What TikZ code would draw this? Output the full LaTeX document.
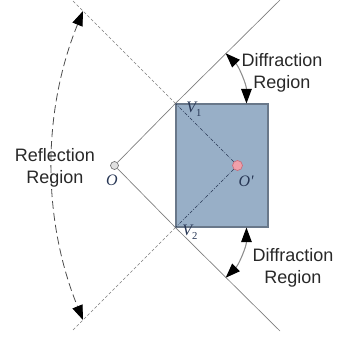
\documentclass[tikz,border=0pt]{standalone}
\usepackage{fontspec}
\setmainfont{Liberation Sans}
\newfontfamily\lserif{Liberation Serif}
\usetikzlibrary{arrows.meta}
\definecolor{boxfill}{RGB}{152,175,199}
\definecolor{boxline}{RGB}{105,120,138}
\definecolor{linegray}{RGB}{125,125,125}
\definecolor{innerdash}{RGB}{40,55,85}
\definecolor{txt}{RGB}{40,40,40}
\definecolor{pinkfill}{RGB}{240,160,170}
\definecolor{pinkline}{RGB}{200,110,125}
\begin{document}
\begin{tikzpicture}[x=0.75pt,y=0.75pt,
  tri/.style={{Triangle[length=11pt,width=8pt,color=black,fill=black]}-{Triangle[length=11pt,width=8pt,color=black,fill=black]}},
  solidray/.style={draw=linegray, line width=0.5pt},
  outerdash/.style={draw=linegray, line width=0.5pt, dash pattern=on 2.2pt off 1.6pt},
  innerdashed/.style={draw=innerdash, line width=0.5pt, dash pattern=on 2.5pt off 1.2pt on 0.6pt off 1.2pt},
  reflarc/.style={tri, draw=black!70, line width=0.6pt, dash pattern=on 6pt off 3pt},
  diffarc/.style={tri, draw=black!45, line width=0.8pt},
  region/.style={text=txt, align=center, font=\fontsize{13.5}{16.5}\selectfont},
  lab/.style={text=innerdash, font=\lserif\itshape\fontsize{12}{12}\selectfont, inner sep=0pt}
]
\useasboundingbox (0,0) rectangle (337,-340);

% the block
\node[draw=boxline, fill=boxfill, line width=0.8pt, minimum width=69pt, minimum height=92.25pt, inner sep=0pt] (box) at (222,-165.5) {};
\coordinate (V1) at (box.north west);
\coordinate (V2) at (box.south west);

% sources
\coordinate (O) at (114.5,-165.5);
\coordinate (Op) at (237.5,-165.5);
\node[circle, draw=black!55, fill=black!12, line width=0.5pt, minimum size=6pt, inner sep=0pt] (Oc) at (O) {};
\node[circle, draw=pinkline, fill=pinkfill, line width=0.5pt, minimum size=7.5pt, inner sep=0pt] (Opc) at (Op) {};

% free ends
\coordinate (tr) at (280,0);
\coordinate (br) at (280,-331);
\coordinate (tl) at (72,0);
\coordinate (bl) at (72,-331);

% rays from O
\draw[solidray] (Oc) -- (V1) -- (tr);
\draw[solidray] (Oc) -- (V2) -- (br);

% rays from O'
\draw[innerdashed] (Opc) -- (V1);
\draw[innerdashed] (Opc) -- (V2);
\draw[outerdash] (V1) -- (tl);
\draw[outerdash] (V2) -- (bl);

% reflection arc
\coordinate (ra) at (83,-11);
\coordinate (rb) at (83,-320);
\draw[reflarc] (ra) .. controls (42,-112) and (42,-219) .. (rb);

% diffraction arcs
\draw[diffarc] ([shift={(45:71)}]V1) arc[start angle=45, end angle=0, radius=71];
\draw[diffarc] ([shift={(0:71)}]V2) arc[start angle=0, end angle=-45, radius=71];

% texts
\node[region] (refl) at (55,-167.5) {Reflection\\Region};
\node[region] (dif1) at (282,-73) {Diffraction\\Region};
\node[region] (dif2) at (293,-268) {Diffraction\\Region};

\node[lab] (Olab) at (112,-180) {O};
\node[lab] (Oplab) at (246,-181) {O'};
\node[lab, anchor=north west] (V1lab) at (186,-102) {V\raisebox{-3pt}{\fontsize{8}{8}\selectfont\upshape 1}};
\node[lab, anchor=north west] (V2lab) at (182,-225) {V\raisebox{-3pt}{\fontsize{8}{8}\selectfont\upshape 2}};
\end{tikzpicture}
\end{document}
